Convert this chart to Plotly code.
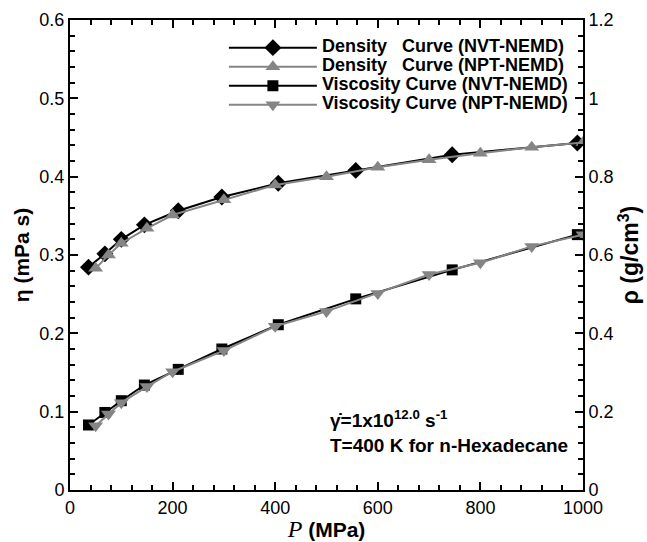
import plotly.graph_objects as go

# Density, NVT-NEMD (diamonds), g/cm^3
p_dens_nvt = [36, 68, 100, 145, 211, 296, 406, 557, 745, 989]
rho_nvt = [0.569, 0.603, 0.640, 0.677, 0.713, 0.748, 0.783, 0.816, 0.856, 0.886]

# Density, NPT-NEMD (triangles)
p_npt = [50, 75, 100, 150, 200, 300, 400, 500, 600, 700, 800, 900, 1000]
rho_npt = [0.566, 0.600, 0.630, 0.668, 0.702, 0.741, 0.779, 0.800, 0.824, 0.843, 0.860, 0.875, 0.887]

# Viscosity, NVT-NEMD (squares), mPa s
p_visc_nvt = [36, 68, 100, 145, 211, 296, 406, 557, 745, 989]
eta_nvt = [0.083, 0.099, 0.114, 0.134, 0.154, 0.180, 0.211, 0.244, 0.281, 0.326]

# Viscosity, NPT-NEMD (inverted triangles)
eta_npt = [0.082, 0.097, 0.1115, 0.132, 0.151, 0.178, 0.209, 0.228, 0.251, 0.275, 0.290, 0.311, 0.326]

BLACK = "#000000"
GRAY = "#858585"
FONT = "Liberation Sans, Arial, sans-serif"


def legend_name(s):
    return "<span style='font-size:18px'><b>" + s + "</b></span>"


fig = go.Figure()

fig.add_trace(go.Scatter(
    x=p_dens_nvt, y=rho_nvt, yaxis="y2", mode="lines+markers",
    name=legend_name("Density   Curve (NVT-NEMD)"),
    line=dict(color=BLACK, width=2),
    marker=dict(symbol="diamond", size=13, color=BLACK)))
fig.add_trace(go.Scatter(
    x=p_npt, y=rho_npt, yaxis="y2", mode="lines+markers",
    name=legend_name("Density   Curve (NPT-NEMD)"),
    line=dict(color=GRAY, width=2),
    marker=dict(symbol="triangle-up", size=13, color=GRAY)))
fig.add_trace(go.Scatter(
    x=p_visc_nvt, y=eta_nvt, mode="lines+markers",
    name=legend_name("Viscosity Curve (NVT-NEMD)"),
    line=dict(color=BLACK, width=2),
    marker=dict(symbol="square", size=11, color=BLACK)))
fig.add_trace(go.Scatter(
    x=p_npt, y=eta_npt, mode="lines+markers",
    name=legend_name("Viscosity Curve (NPT-NEMD)"),
    line=dict(color=GRAY, width=2),
    marker=dict(symbol="triangle-down", size=13, color=GRAY)))

axis_common = dict(
    showline=True, linecolor="black", linewidth=2,
    ticks="inside", ticklen=8, tickwidth=2, tickcolor="black",
    showgrid=False, zeroline=False, automargin=False,
    tickfont=dict(family=FONT, size=18, color="black"),
)

fig.update_layout(
    width=647, height=542,
    margin=dict(l=70, r=64, t=20, b=52),
    paper_bgcolor="white", plot_bgcolor="white",
    font=dict(family=FONT, color="black"),
    showlegend=True,
    legend=dict(
        x=0.30, y=0.972, xanchor="left", yanchor="top",
        bgcolor="rgba(0,0,0,0)", borderwidth=0,
        font=dict(family=FONT, size=12, color="black"),
        tracegroupgap=0, itemwidth=88,
    ),
    xaxis=dict(
        range=[0, 1000], dtick=200, mirror="ticks",
        minor=dict(dtick=40, ticks="inside", ticklen=5, tickwidth=1.5, tickcolor="black"),
        title=dict(
            text="<span style='font-family:Liberation Serif, Times New Roman, serif;font-size:24px'><i>P</i></span> <b>(MPa)</b>",
            font=dict(family=FONT, size=21, color="black"), standoff=0),
        **axis_common),
    yaxis=dict(
        range=[0, 0.6], dtick=0.1,
        minor=dict(dtick=0.02, ticks="inside", ticklen=5, tickwidth=1.5, tickcolor="black"),
        title=dict(text="<b>η (mPa s)</b>", font=dict(family=FONT, size=21, color="black"), standoff=4),
        **axis_common),
    yaxis2=dict(
        range=[0, 1.2], dtick=0.2, overlaying="y", side="right",
        minor=dict(dtick=0.04, ticks="inside", ticklen=5, tickwidth=1.5, tickcolor="black"),
        title=dict(text="<b>ρ (g/cm<sup>3</sup>)</b>", font=dict(family=FONT, size=23, color="black"), standoff=4),
        **axis_common),
    annotations=[dict(
        xref="x", yref="y", x=503, y=0.108, xanchor="left", yanchor="top",
        align="left", showarrow=False,
        text="<b>γ̇=1x10<sup>12.0</sup> s<sup>-1</sup></b><br><b>T=400 K for n-Hexadecane</b>",
        font=dict(family=FONT, size=19, color="black"))],
)

fig.write_html("out.html")
